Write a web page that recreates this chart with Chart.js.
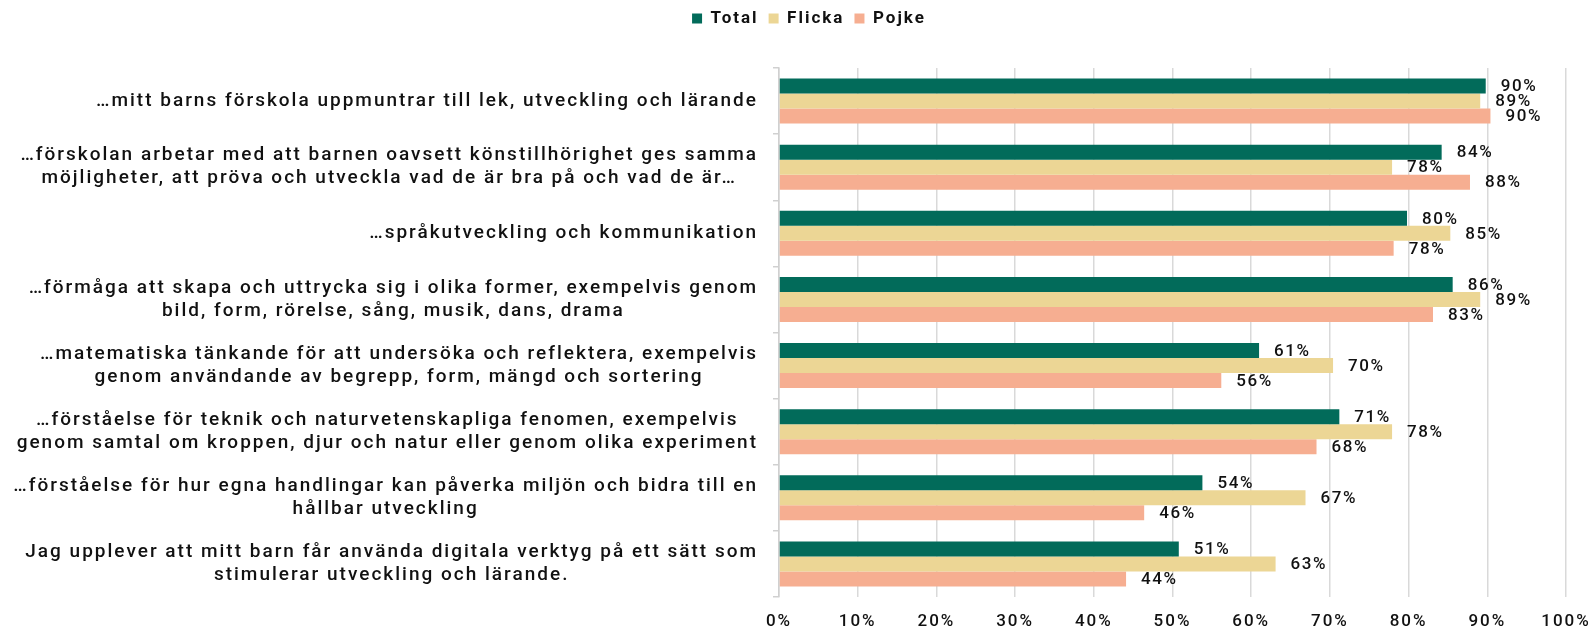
<!DOCTYPE html>
<html>
<head>
<meta charset="utf-8">
<script src="https://cdn.jsdelivr.net/npm/chart.js@4"></script>
<style>
  html, body { margin: 0; padding: 0; background: #ffffff; }
  #wrap { width: 1593px; height: 630px; position: relative; }
</style>
</head>
<body>
<div id="wrap"><canvas id="fritidChart"></canvas></div>
<script>
// Påståenden (kategorier) - flera rader där texten bryts
const kategorier = [
    ['…mitt barns förskola uppmuntrar till lek, utveckling och lärande'],
    ['…förskolan arbetar med att barnen oavsett könstillhörighet ges samma', 'möjligheter, att pröva och utveckla vad de är bra på och vad de är…'],
    ['…språkutveckling och kommunikation'],
    ['…förmåga att skapa och uttrycka sig i olika former, exempelvis genom', 'bild, form, rörelse, sång, musik, dans, drama'],
    ['…matematiska tänkande för att undersöka och reflektera, exempelvis', 'genom användande av begrepp, form, mängd och sortering'],
    ['…förståelse för teknik och naturvetenskapliga fenomen, exempelvis', 'genom samtal om kroppen, djur och natur eller genom olika experiment'],
    ['…förståelse för hur egna handlingar kan påverka miljön och bidra till en', 'hållbar utveckling'],
    ['Jag upplever att mitt barn får använda digitala verktyg på ett sätt som', 'stimulerar utveckling och lärande.']
];

const serieNamn = ['Total', 'Flicka', 'Pojke'];
const total  = [89.8, 84.2, 79.8, 85.6, 61.0, 71.2, 53.8, 50.8];
const flicka = [89.1, 77.9, 85.3, 89.1, 70.4, 77.9, 66.9, 63.1];
const pojke  = [90.4, 87.8, 78.1, 83.1, 56.2, 68.3, 46.4, 44.1];
const xTicks = ['0%', '10%', '20%', '30%', '40%', '50%', '60%', '70%', '80%', '90%', '100%'];

const farger = ['#026b5a', '#ecd695', '#f6ae91'];
const fontFamilj = 'Roboto, "Liberation Sans", Arial, sans-serif';
const textFarg = '#111111';
const spacing = '2px';

// Bokstavsavstånd som i originalet
const spacingPlugin = {
    id: 'spacing',
    beforeUpdate: (chart) => { chart.ctx.letterSpacing = spacing; },
    beforeLayout: (chart) => {
        chart.ctx.letterSpacing = spacing;
        // luft mellan förklaringen och diagrammet
        const legend = chart.legend;
        if (legend && !legend._extraFit) {
            const origFit = legend.fit;
            legend.fit = function () {
                origFit.call(this);
                this.height += 31;
            };
            legend._extraFit = true;
        }
    },
    beforeDraw: (chart) => { chart.ctx.letterSpacing = spacing; }
};

// Kategoritexter: blocket högerjusterat, raderna centrerade inom blocket
const kategoriPlugin = {
    id: 'kategoriEtiketter',
    afterDraw: (chart) => {
        const ctx = chart.ctx;
        const yScale = chart.scales.y;
        const right = chart.chartArea.left - 21;
        const lineHeight = 23;
        ctx.save();
        ctx.letterSpacing = spacing;
        ctx.font = `500 19px ${fontFamilj}`;
        ctx.fillStyle = textFarg;
        ctx.textAlign = 'center';
        ctx.textBaseline = 'middle';
        kategorier.forEach((rader, i) => {
            const yMid = yScale.getPixelForValue(i);
            const blockW = Math.max(...rader.map(r => ctx.measureText(r).width));
            const xMid = right - blockW / 2;
            rader.forEach((rad, j) => {
                const y = yMid + (j - (rader.length - 1) / 2) * lineHeight;
                ctx.fillText(rad, xMid, y);
            });
        });
        ctx.restore();
    }
};

// Värdeetiketter till höger om staplarna
const vardePlugin = {
    id: 'vardeEtiketter',
    afterDatasetsDraw: (chart) => {
        const ctx = chart.ctx;
        ctx.save();
        ctx.letterSpacing = '1.6px';
        ctx.font = `500 17px ${fontFamilj}`;
        ctx.fillStyle = textFarg;
        ctx.textAlign = 'left';
        ctx.textBaseline = 'middle';
        chart.data.datasets.forEach((ds, di) => {
            chart.getDatasetMeta(di).data.forEach((bar, i) => {
                ctx.fillText(Math.round(ds.data[i]) + '%', bar.x + 15, bar.y + 1);
            });
        });
        ctx.restore();
    }
};

new Chart(document.getElementById('fritidChart').getContext('2d'), {
    type: 'bar',
    data: {
        labels: kategorier.map((k, i) => i),
        datasets: [
            { label: serieNamn[0], data: total,  backgroundColor: farger[0] },
            { label: serieNamn[1], data: flicka, backgroundColor: farger[1] },
            { label: serieNamn[2], data: pojke,  backgroundColor: farger[2] }
        ]
    },
    options: {
        indexAxis: 'y',
        responsive: true,
        maintainAspectRatio: false,
        animation: false,
        categoryPercentage: 0.68,
        barPercentage: 1.0,
        layout: { padding: { left: 52, right: 27, top: 0, bottom: 0 } },
        plugins: {
            legend: {
                display: true,
                position: 'top',
                labels: {
                    boxWidth: 10,
                    boxHeight: 10,
                    padding: 10,
                    color: textFarg,
                    font: { family: fontFamilj, size: 17, weight: 'bold' }
                }
            },
            tooltip: { enabled: false }
        },
        scales: {
            x: {
                min: 0,
                max: 100,
                ticks: {
                    stepSize: 10,
                    padding: 15,
                    color: textFarg,
                    font: { family: fontFamilj, size: 17, weight: 500 },
                    callback: (v, i) => xTicks[i]
                },
                grid: { color: '#d9d9d9', lineWidth: 1.5, drawTicks: false },
                border: { display: false },
                afterFit: (scale) => {
                    scale.height = 33;
                    scale.paddingLeft = 0;
                    scale.paddingRight = 0;
                }
            },
            y: {
                ticks: { display: false },
                grid: { offset: true, drawOnChartArea: false, tickLength: 6, color: '#d0d0d0', lineWidth: 1.5 },
                border: { display: true, color: '#d0d0d0', width: 1.5 },
                afterFit: (scale) => { scale.width = 779 - 52; }
            }
        }
    },
    plugins: [spacingPlugin, kategoriPlugin, vardePlugin]
});
</script>
</body>
</html>
